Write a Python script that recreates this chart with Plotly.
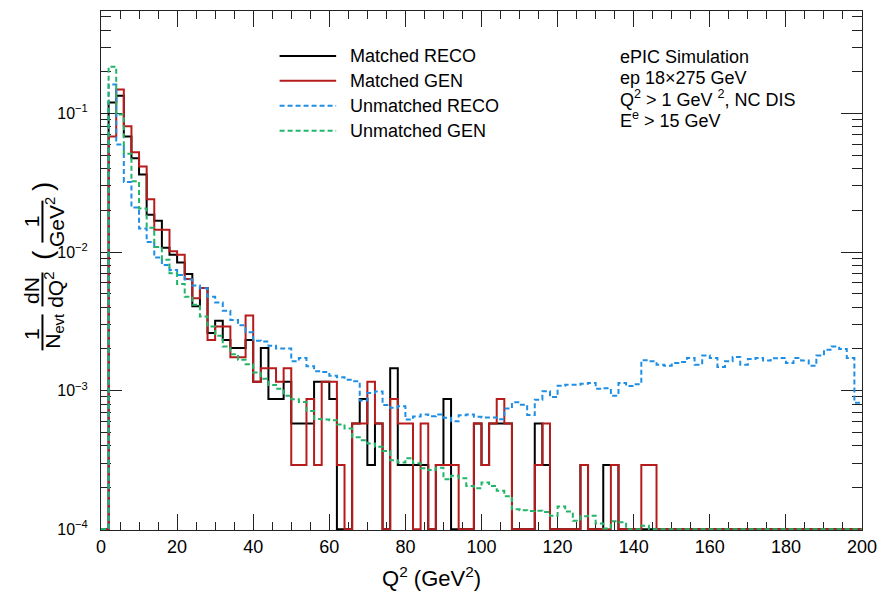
import plotly.graph_objects as go

# Q^2 binning: 100 bins of 2 GeV^2 from 0 to 200
bin_edges = list(range(0, 202, 2))

# Matched samples: event counts per bin (scaled by the per-event weight below)
matched_reco_counts = [
    0, 414, 464, 235, 164, 125, 64, 58, 37, 33,
    29, 24, 14, 19, 9, 11, 8, 7, 7, 8,
    4, 7, 3, 3, 4, 2, 2, 2, 4, 4,
    3, 0, 0, 2, 3, 1, 2, 0, 5, 1,
    1, 1, 1, 0, 1, 3, 0, 0, 0, 2,
    1, 2, 2, 2, 0, 0, 0, 2, 1, 0,
    0, 0, 0, 1, 0, 0, 1, 1, 0, 0,
    0, 0, 0, 0, 0, 0, 0, 0, 0, 0,
    0, 0, 0, 0, 0, 0, 0, 0, 0, 0,
    0, 0, 0, 0, 0, 0, 0, 0, 0, 0,
]
matched_gen_counts = [
    0, 235, 513, 279, 181, 143, 83, 50, 50, 35,
    33, 22, 16, 19, 8, 10, 10, 6, 6, 12,
    4, 5, 5, 4, 5, 1, 1, 3, 1, 4,
    4, 1, 0, 2, 2, 4, 2, 0, 3, 2,
    2, 0, 2, 0, 1, 1, 1, 0, 0, 2,
    1, 2, 3, 2, 0, 0, 0, 1, 2, 0,
    0, 0, 0, 1, 0, 0, 0, 1, 0, 0,
    0, 1, 1, 0, 0, 0, 0, 0, 0, 0,
    0, 0, 0, 0, 0, 0, 0, 0, 0, 0,
    0, 0, 0, 0, 0, 0, 0, 0, 0, 0,
]
# 1 / (N_evt * bin width) for the matched sample
event_weight = 2.9e-4

# Unmatched samples: normalised density per bin
unmatched_reco = [
    0, 0.162, 0.0598, 0.0321, 0.0210, 0.0148, 0.0118, 0.00912, 0.00805, 0.00743,
    0.00684, 0.00634, 0.00574, 0.00548, 0.00476, 0.00433, 0.00377, 0.00323, 0.00296, 0.00264,
    0.00229, 0.00226, 0.00211, 0.00201, 0.00201, 0.00163, 0.00172, 0.00150, 0.00138, 0.00136,
    0.00128, 0.00125, 0.00120, 0.00117, 0.000847, 0.000962, 0.000984, 0.000787, 0.000752, 0.000771,
    0.000618, 0.000650, 0.000672, 0.000653, 0.000672, 0.000637, 0.000601, 0.000664, 0.000672, 0.000647,
    0.000640, 0.000640, 0.000622, 0.000743, 0.000824, 0.000792, 0.000667, 0.000861, 0.000989, 0.000898,
    0.001086, 0.001104, 0.001104, 0.00112, 0.001135, 0.00103, 0.00104, 0.00092, 0.001135, 0.00108,
    0.001114, 0.00166, 0.00163, 0.00154, 0.00151, 0.00158, 0.00161, 0.00172, 0.00154, 0.00179,
    0.00172, 0.00148, 0.00163, 0.00175, 0.00154, 0.00169, 0.00172, 0.00165, 0.00171, 0.00172,
    0.00158, 0.00172, 0.00165, 0.00151, 0.00179, 0.00197, 0.00208, 0.00200, 0.00172, 0.000816,
]
unmatched_gen = [
    0, 0.218, 0.0984, 0.0513, 0.0324, 0.0206, 0.0150, 0.0109, 0.00881, 0.00703,
    0.00589, 0.00476, 0.00416, 0.00343, 0.00290, 0.00249, 0.00208, 0.00183, 0.00167, 0.00155,
    0.00135, 0.00122, 0.00110, 0.00103, 0.00092, 0.000865, 0.000826, 0.000713, 0.000624, 0.000618,
    0.000612, 0.000569, 0.000533, 0.000460, 0.000438, 0.000416, 0.000393, 0.000366, 0.000315, 0.000303,
    0.000325, 0.000299, 0.000275, 0.000267, 0.000278, 0.000229, 0.000243, 0.000233, 0.000205, 0.000197,
    0.000217, 0.000205, 0.000189, 0.000173, 0.000139, 0.000137, 0.000135, 0.000136, 0.000133, 0.000125,
    0.000146, 0.000134, 0.000115, 0.000124, 0.000125, 0.000110, 0.000101, 0.000114, 0.000112, 0,
    0, 0.000106, 0, 0, 0, 0, 0, 0, 0, 0,
    0, 0, 0, 0, 0, 0, 0, 0, 0, 0,
    0, 0, 0, 0, 0, 0, 0, 0, 0, 0,
]

legend_labels = ["Matched RECO", "Matched GEN", "Unmatched RECO", "Unmatched GEN"]
info_lines = [
    "ePIC Simulation",
    "ep 18\u00d7275 GeV",
    "Q<sup>2</sup> > 1 GeV <sup>2</sup>, NC DIS",
    "E<sup>e</sup> > 15 GeV",
]
y_tick_vals = [1e-4, 1e-3, 1e-2, 1e-1]
y_tick_text = ["10<sup>\u22124</sup>", "10<sup>\u22123</sup>", "10<sup>\u22122</sup>", "10<sup>\u22121</sup>"]
x_tick_vals = list(range(0, 201, 20))

# lower edge sits a hair under 1e-4 so empty bins drawn on the frame stay visible
Y_LOG_RANGE = [-4.006, -0.26]
Y_FLOOR = 1e-4

FONT = "Liberation Sans, Arial, Helvetica, sans-serif"
colors = ["#000000", "#b71c1c", "#1f8fe5", "#22b468"]
dashes = ["solid", "solid", "5px,3px", "5px,3px"]

series = [
    [c * event_weight for c in matched_reco_counts],
    [c * event_weight for c in matched_gen_counts],
    unmatched_reco,
    unmatched_gen,
]

fig = go.Figure()
for name, vals, color, dash in zip(legend_labels, series, colors, dashes):
    # empty bins sit on the lower frame, as in a log-scale histogram
    y = [max(v, Y_FLOOR) for v in vals]
    fig.add_trace(go.Scatter(
        x=bin_edges, y=y + [y[-1]], mode="lines", name=name,
        line=dict(shape="hv", color=color, width=2, dash=dash),
        cliponaxis=False, showlegend=False,
    ))

# plot-area geometry in pixels (used for placing decorations)
L, R, T, B = 101, 868, 10, 530


def px_x(p):
    return (p - L) / (R - L)


def px_y(p):
    return (B - p) / (B - T)


annotations = []
shapes = []

# legend block
legend_rows = [55, 80, 105, 130]
for label, color, dash, row in zip(legend_labels, colors, dashes, legend_rows):
    shapes.append(dict(type="line", xref="paper", yref="paper",
                       x0=px_x(281), x1=px_x(338), y0=px_y(row), y1=px_y(row),
                       line=dict(color=color, width=2, dash=dash)))
    annotations.append(dict(text=label, xref="paper", yref="paper",
                            x=px_x(350), y=px_y(row), xanchor="left", yanchor="middle",
                            showarrow=False, font=dict(size=18, family=FONT, color="black")))

# simulation info block
info_rows = [56, 77, 98, 119]
for line, row in zip(info_lines, info_rows):
    annotations.append(dict(text=line, xref="paper", yref="paper",
                            x=px_x(622), y=px_y(row), xanchor="left", yanchor="middle",
                            showarrow=False, font=dict(size=18, family=FONT, color="black")))

# x-axis title
annotations.append(dict(text="Q<sup>2</sup> (GeV<sup>2</sup>)", xref="paper", yref="paper",
                        x=px_x(434), y=px_y(577), xanchor="center", yanchor="middle",
                        showarrow=False, font=dict(size=22, family=FONT, color="black")))

# y-axis title built from rotated pieces: 1/N_evt dN/dQ^2 (1/GeV^2)
num_x, den_x, bar_x = 31, 54, 42
ytitle_parts = [
    ("1", num_x, 334, 21),
    ("N<sub>evt</sub>", den_x, 331, 21),
    ("dN", num_x, 290, 21),
    ("dQ<sup>2</sup>", den_x, 289, 21),
    ("(", bar_x, 254, 28),
    ("1", num_x, 221, 21),
    ("GeV<sup>2</sup>", den_x, 221, 21),
    (")", bar_x, 186, 28),
]
for txt, xx, yy, sz in ytitle_parts:
    annotations.append(dict(text=txt, xref="paper", yref="paper",
                            x=px_x(xx), y=px_y(yy), xanchor="center", yanchor="middle",
                            textangle=-90, showarrow=False,
                            font=dict(size=sz, family=FONT, color="black")))
for y0, y1 in [(314, 350), (272, 306), (200, 242)]:
    shapes.append(dict(type="line", xref="paper", yref="paper",
                       x0=px_x(bar_x), x1=px_x(bar_x), y0=px_y(y0), y1=px_y(y1),
                       line=dict(color="black", width=2)))

x_minor = [v for v in range(0, 201, 5) if v % 20 != 0]
y_minor = [m * 10 ** e for e in range(-4, 0) for m in range(2, 10) if m * 10 ** e < 0.55]

fig.update_layout(
    width=887, height=595,
    margin=dict(l=L, r=887 - R, t=T, b=595 - B),
    paper_bgcolor="white", plot_bgcolor="white",
    font=dict(family=FONT, color="black"),
    showlegend=False,
    annotations=annotations,
    shapes=shapes,
    xaxis=dict(
        range=[0, 200], showgrid=False, zeroline=False, layer="below traces",
        showline=True, linecolor="#222222", linewidth=1, mirror="ticks",
        ticks="inside", ticklen=16, tickwidth=1, tickcolor="#222222",
        tickmode="array", tickvals=x_tick_vals,
        tickfont=dict(size=18, family=FONT, color="black"),
        minor=dict(ticks="inside", ticklen=8, tickwidth=1, tickcolor="#222222",
                   tickmode="array", tickvals=x_minor, showgrid=False),
    ),
    yaxis=dict(
        type="log", range=Y_LOG_RANGE, showgrid=False, zeroline=False, layer="below traces",
        showline=True, linecolor="#222222", linewidth=1, mirror="ticks",
        ticks="inside", ticklen=21, tickwidth=1, tickcolor="#222222",
        tickmode="array", tickvals=y_tick_vals, ticktext=y_tick_text,
        ticklabelstandoff=9,
        tickfont=dict(size=16, family=FONT, color="black"),
        minor=dict(ticks="inside", ticklen=10, tickwidth=1, tickcolor="#222222",
                   tickmode="array", tickvals=y_minor, showgrid=False),
    ),
)

fig.write_html("out.html")
